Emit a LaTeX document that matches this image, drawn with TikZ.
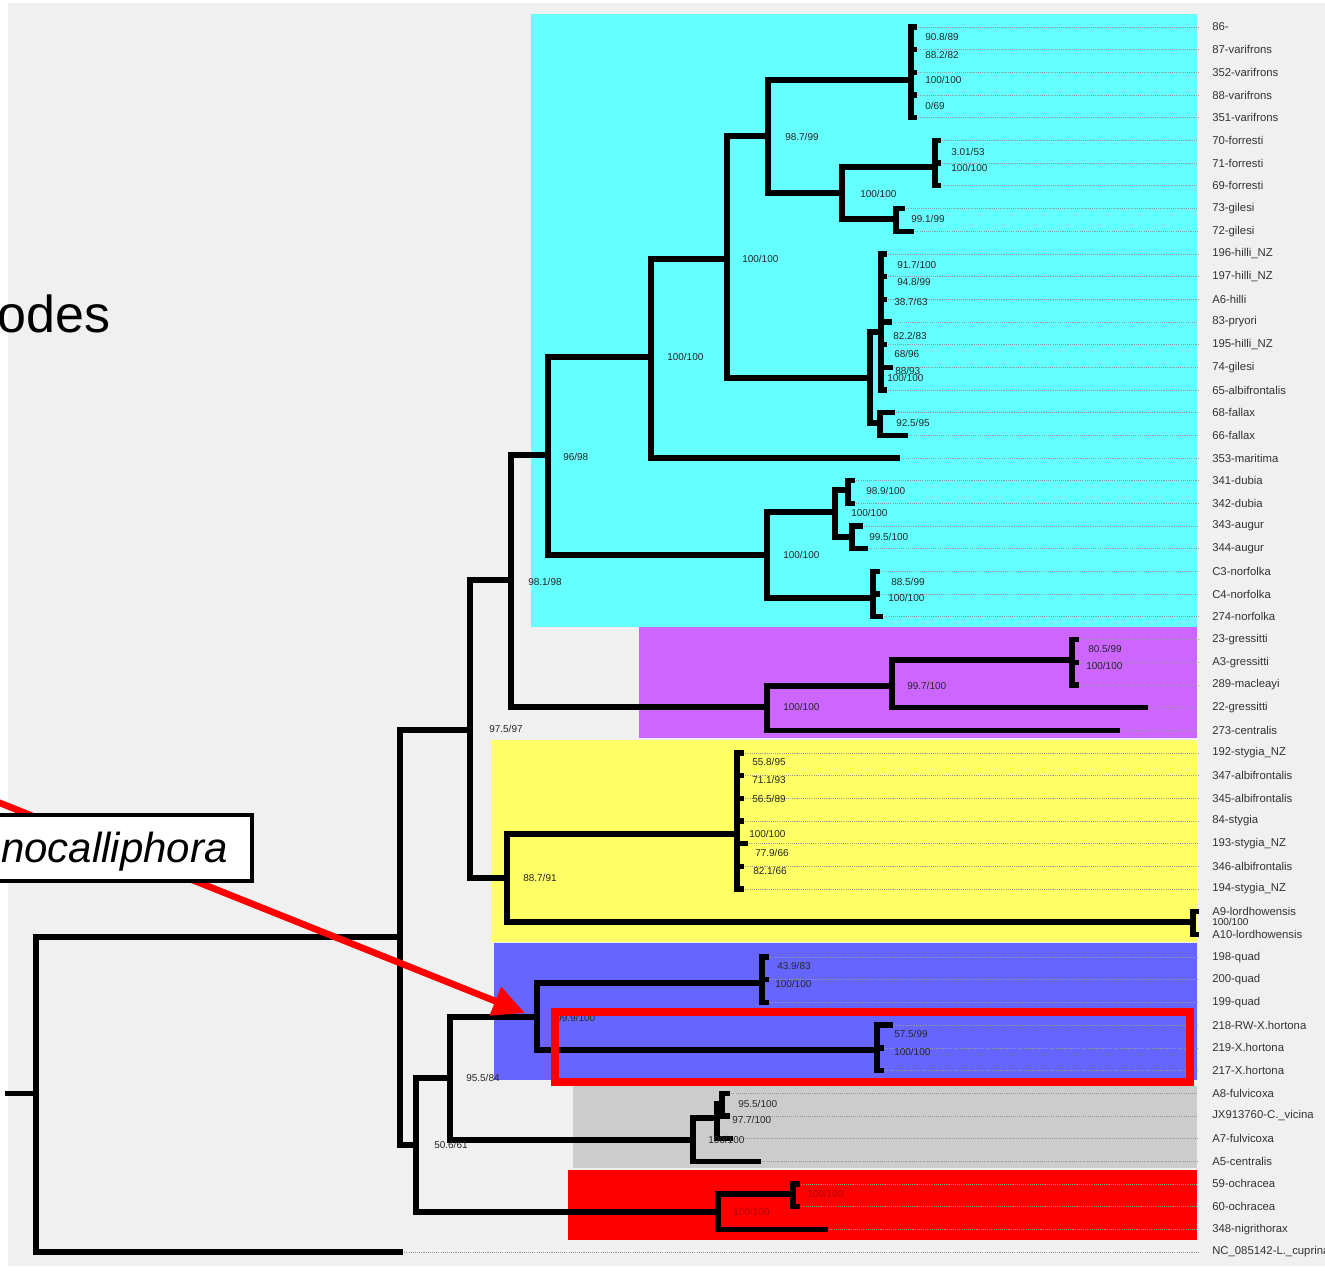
\documentclass[tikz,border=0pt]{standalone}
\usepackage{fontspec}
\setmainfont{Liberation Sans}
\usetikzlibrary{arrows.meta}
\definecolor{bggray}{HTML}{F0F0F0}
\definecolor{cyanbox}{HTML}{66FFFF}
\definecolor{purplebox}{HTML}{CC66FF}
\definecolor{yellowbox}{HTML}{FFFF66}
\definecolor{bluebox}{HTML}{6666FF}
\definecolor{graybox}{HTML}{CCCCCC}
\definecolor{redbox}{HTML}{FF0000}
\definecolor{darkredtxt}{HTML}{B00000}
\begin{document}
\begin{tikzpicture}[x=0.75pt,y=-0.75pt,
  br/.style={line width=4pt, line cap=rect, line join=miter},
  dotline/.style={line width=0.5pt, black!40, dash pattern=on 0.8pt off 0.8pt},
  leaf/.style={anchor=west, inner sep=0pt, font=\fontsize{8.5}{10}\selectfont, text=black!80},
  sup/.style={anchor=west, inner sep=0pt, font=\fontsize{7.5}{9}\selectfont, text=black!85},
  supred/.style={sup, text=darkredtxt}]
\useasboundingbox (0,0) rectangle (1325,1271);
\fill[white] (0,0) rectangle (1325,1271);
\fill[bggray] (8,3) rectangle (1325,1266);
% clade boxes
\fill[cyanbox] (531,14) rectangle (1197,627);
\fill[purplebox] (639,627) rectangle (1197,738);
\fill[yellowbox] (491,740) rectangle (1197,942);
\fill[bluebox] (494,943) rectangle (1197,1080);
\fill[graybox] (573,1086) rectangle (1197,1168);
\fill[redbox] (568,1170) rectangle (1197,1240);
% leaves
\foreach \i/\tx/\nm in {0/914/{86-},1/914/{87-varifrons},2/914/{352-varifrons},3/914/{88-varifrons},4/914/{351-varifrons},
 5/938/{70-forresti},6/938/{71-forresti},7/938/{69-forresti},8/902/{73-gilesi},9/911/{72-gilesi},
 10/884/{196-hilli\_NZ},11/884/{197-hilli\_NZ},12/884/{A6-hilli},13/889/{83-pryori},14/884/{195-hilli\_NZ},
 15/890/{74-gilesi},16/884/{65-albifrontalis},17/892/{68-fallax},18/905/{66-fallax},19/897/{353-maritima},
 20/852/{341-dubia},21/852/{342-dubia},22/860/{343-augur},23/865/{344-augur},24/877/{C3-norfolka},
 25/877/{C4-norfolka},26/880/{274-norfolka},27/1076/{23-gressitti},28/1076/{A3-gressitti},29/1076/{289-macleayi},
 30/1145/{22-gressitti},31/1117/{273-centralis},32/741/{192-stygia\_NZ},33/741/{347-albifrontalis},
 34/741/{345-albifrontalis},35/741/{84-stygia},36/745/{193-stygia\_NZ},37/741/{346-albifrontalis},
 38/741/{194-stygia\_NZ},39/1196/{A9-lordhowensis},40/1196/{A10-lordhowensis},41/766/{198-quad},
 42/766/{200-quad},43/766/{199-quad},44/890/{218-RW-X.hortona},45/881/{219-X.hortona},46/881/{217-X.hortona},
 47/727/{A8-fulvicoxa},48/727/{JX913760-C.\_vicina},49/730/{A7-fulvicoxa},50/758/{A5-centralis},
 51/797/{59-ochracea},52/797/{60-ochracea},53/825/{348-nigrithorax},54/400/{NC\_085142-L.\_cuprina}}{
  \pgfmathsetmacro\yy{27+22.685*\i}
  \coordinate (L\i) at (\tx,\yy);
  \draw[dotline] (L\i) -- (1198,\yy);
  \node[leaf] (T\i) at (1212,\yy) {\nm};
}
% internal nodes
\coordinate (rootstub) at (8,1093.5);
\coordinate (root) at (36,1093.5);
\coordinate (nA) at (400,937);
\coordinate (nC) at (470,730);
\coordinate (nD) at (511,580);
\coordinate (nCy) at (548,455);
\coordinate (nE) at (651,357);
\coordinate (nG) at (727,259);
\coordinate (nH) at (768,136);
\coordinate (nVar) at (911,80);
\coordinate (nI) at (842,193);
\coordinate (nFor) at (935,167);
\coordinate (nGil) at (896,219);
\coordinate (nHi) at (870,378);
\coordinate (nHa) at (881,332);
\coordinate (nHb) at (880,423);
\coordinate (nF) at (767,555);
\coordinate (nJ) at (835,512);
\coordinate (nDub) at (848,490);
\coordinate (nAug) at (852,537);
\coordinate (nNor) at (873,598);
\coordinate (nPu) at (767,707);
\coordinate (nK) at (892,686);
\coordinate (nGre) at (1072,660);
\coordinate (nY) at (507,878);
\coordinate (nSty) at (737,834);
\coordinate (nLor) at (1193,922);
\coordinate (nL) at (416,1145);
\coordinate (nM) at (450,1078);
\coordinate (nBl) at (537,1017);
\coordinate (nQuad) at (762,983);
\coordinate (nHor) at (877,1050);
\coordinate (nGr) at (693,1140);
\coordinate (nN) at (717,1118);
\coordinate (nO) at (722,1104);
\coordinate (nRed) at (718,1212);
\coordinate (nOch) at (793,1194);
% branches
\draw[br] (rootstub) -- (root);
\draw[br] (nA) -| (root) |- (L54);
\draw[br] (nC) -| (nA) |- (nL);
\draw[br] (nD) -| (nC) |- (nY);
\draw[br] (nCy) -| (nD) |- (nPu);
\draw[br] (nE) -| (nCy) |- (nF);
\draw[br] (nG) -| (nE) |- (L19);
\draw[br] (nH) -| (nG) |- (nHi);
\draw[br] (nVar) -| (nH) |- (nI);
\draw[br] (nVar |- L0) -- (nVar |- L4);
\foreach \i in {0,...,4} \draw[br] (nVar |- L\i) -- (L\i);
\draw[br] (nFor) -| (nI) |- (nGil);
\draw[br] (nFor |- L5) -- (nFor |- L7);
\foreach \i in {5,6,7} \draw[br] (nFor |- L\i) -- (L\i);
\draw[br] (L8) -| (nGil) |- (L9);
\draw[br] (nHa) -| (nHi) |- (nHb);
\draw[br] (nHa |- L10) -- (nHa |- L16);
\foreach \i in {10,...,16} \draw[br] (nHa |- L\i) -- (L\i);
\draw[br] (L17) -| (nHb) |- (L18);
\draw[br] (nJ) -| (nF) |- (nNor);
\draw[br] (nDub) -| (nJ) |- (nAug);
\draw[br] (L20) -| (nDub) |- (L21);
\draw[br] (L22) -| (nAug) |- (L23);
\draw[br] (nNor |- L24) -- (nNor |- L26);
\foreach \i in {24,25,26} \draw[br] (nNor |- L\i) -- (L\i);
\draw[br] (nK) -| (nPu) |- (L31);
\draw[br] (nGre) -| (nK) |- (L30);
\draw[br] (nGre |- L27) -- (nGre |- L29);
\foreach \i in {27,28,29} \draw[br] (nGre |- L\i) -- (L\i);
\draw[br] (nSty) -| (nY) |- (nLor);
\draw[br] (nSty |- L32) -- (nSty |- L38);
\foreach \i in {32,...,38} \draw[br] (nSty |- L\i) -- (L\i);
\draw[br] (L39) -| (nLor) |- (L40);
\draw[br] (nM) -| (nL) |- (nRed);
\draw[br] (nBl) -| (nM) |- (nGr);
\draw[br] (nQuad) -| (nBl) |- (nHor);
\draw[br] (nQuad |- L41) -- (nQuad |- L43);
\foreach \i in {41,42,43} \draw[br] (nQuad |- L\i) -- (L\i);
\draw[br] (nHor |- L44) -- (nHor |- L46);
\foreach \i in {44,45,46} \draw[br] (nHor |- L\i) -- (L\i);
\draw[br] (nN) -| (nGr) |- (L50);
\draw[br] (nO) -| (nN) |- (L49);
\draw[br] (L47) -| (nO) |- (L48);
\draw[br] (nOch) -| (nRed) |- (L53);
\draw[br] (L51) -| (nOch) |- (L52);
% support values
\node[sup] (s1) at (925,37) {90.8/89};
\node[sup] (s2) at (925,55) {88.2/82};
\node[sup] (s3) at (925,80) {100/100};
\node[sup] (s4) at (925,106) {0/69};
\node[sup] (s5) at (785,137) {98.7/99};
\node[sup] (s6) at (951,152) {3.01/53};
\node[sup] (s7) at (951,168) {100/100};
\node[sup] (s8) at (860,194) {100/100};
\node[sup] (s9) at (911,219) {99.1/99};
\node[sup] (s10) at (742,259) {100/100};
\node[sup] (s11) at (897,265) {91.7/100};
\node[sup] (s12) at (897,282) {94.8/99};
\node[sup] (s13) at (894,302) {38.7/63};
\node[sup] (s14) at (893,336) {82.2/83};
\node[sup] (s15) at (894,354) {68/96};
\node[sup] (s16) at (895,371) {88/93};
\node[sup] (s17) at (887,378) {100/100};
\node[sup] (s18) at (896,423) {92.5/95};
\node[sup] (s19) at (667,357) {100/100};
\node[sup] (s20) at (563,457) {96/98};
\node[sup] (s21) at (866,491) {98.9/100};
\node[sup] (s22) at (851,513) {100/100};
\node[sup] (s23) at (869,537) {99.5/100};
\node[sup] (s24) at (783,555) {100/100};
\node[sup] (s25) at (891,582) {88.5/99};
\node[sup] (s26) at (888,598) {100/100};
\node[sup] (s27) at (528,582) {98.1/98};
\node[sup] (s28) at (1088,649) {80.5/99};
\node[sup] (s29) at (1086,666) {100/100};
\node[sup] (s30) at (907,686) {99.7/100};
\node[sup] (s31) at (783,707) {100/100};
\node[sup] (s32) at (489,729) {97.5/97};
\node[sup] (s33) at (752,762) {55.8/95};
\node[sup] (s34) at (752,780) {71.1/93};
\node[sup] (s35) at (752,799) {56.5/89};
\node[sup] (s36) at (749,834) {100/100};
\node[sup] (s37) at (755,853) {77.9/66};
\node[sup] (s38) at (753,871) {82.1/66};
\node[sup] (s39) at (523,878) {88.7/91};
\node[sup] (s40) at (1212,922) {100/100};
\node[sup] (s41) at (777,966) {43.9/83};
\node[sup] (s42) at (775,984) {100/100};
\node[sup] (s43) at (556,1018) {99.9/100};
\node[sup] (s44) at (894,1034) {57.5/99};
\node[sup] (s45) at (894,1052) {100/100};
\node[sup] (s46) at (466,1078) {95.5/84};
\node[sup] (s47) at (738,1104) {95.5/100};
\node[sup] (s48) at (732,1120) {97.7/100};
\node[sup] (s49) at (708,1140) {100/100};
\node[sup] (s50) at (434,1145) {50.6/61};
\node[supred] (s51) at (807,1194) {100/100};
\node[supred] (s52) at (733,1212) {100/100};
% highlight rectangle
\draw[redbox, line width=6pt] (554.5,1011.5) rectangle (1190,1082);
% arrow
\coordinate (arrowstart) at (-5,801);
\coordinate (arrowtip) at (525,1013);
\draw[redbox, line width=5pt, -{Triangle[length=24pt,width=22pt]}] (arrowstart) -- (arrowtip);
% label box
\draw[line width=3pt, fill=white] (-10,815) rectangle (252,881);
\node[anchor=base west, inner sep=0pt, font=\fontsize{31.5}{36}\selectfont\itshape] (genus) at (1,862) {nocalliphora};
\node[anchor=base west, inner sep=0pt, font=\fontsize{39}{44}\selectfont] (odes) at (-3,332) {odes};
\end{tikzpicture}
\end{document}
